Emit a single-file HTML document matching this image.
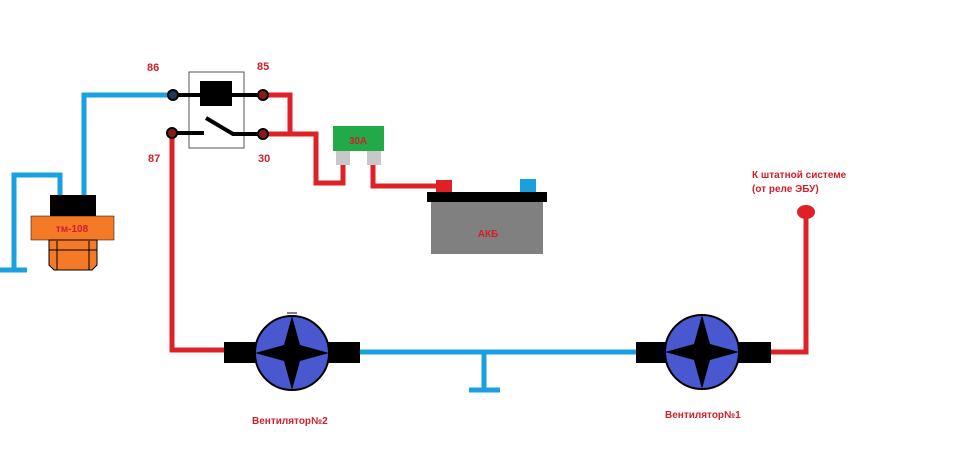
<!DOCTYPE html>
<html><head><meta charset="utf-8"><style>
body{margin:0;background:#fff;}
svg{display:block}
</style></head><body>
<svg width="960" height="459" viewBox="0 0 960 459" xmlns="http://www.w3.org/2000/svg">
<rect width="960" height="459" fill="#fff"/>
<g fill="none" stroke="#1aa0e0" stroke-width="5">
<polyline points="173,95 84,95 84,197"/>
<polyline points="60,197 60,175 14,175 14,270"/>
<line x1="0" y1="270" x2="27" y2="270"/>
<line x1="360" y1="352" x2="638" y2="352"/>
<polyline points="484,352 484,390"/>
<line x1="469" y1="390" x2="500" y2="390"/>
</g>
<g fill="none" stroke="#e02027" stroke-width="5">
<polyline points="263,95 290,95 290,134"/>
<polyline points="263,134 316,134 316,183 343,183 343,160"/>
<polyline points="373,160 373,186 440,186"/>
<polyline points="172,133 172,350 226,350"/>
<polyline points="770,352 806,352 806,212"/>
</g>
<ellipse cx="806" cy="212" rx="9" ry="7" fill="#e02027"/>
<rect x="189" y="72" width="55" height="76" fill="#fff" stroke="#555" stroke-width="1"/>
<g stroke="#000" stroke-width="4" fill="none">
<line x1="173" y1="95" x2="263" y2="95"/>
<line x1="172" y1="133" x2="204" y2="133"/>
<polyline points="206,118 233,134 263,134"/>
</g>
<rect x="200" y="81" width="32" height="25" fill="#000"/>
<circle cx="173" cy="95" r="5" fill="#1a3a5a" stroke="#000" stroke-width="2"/>
<circle cx="263" cy="95" r="5" fill="#8a1a1a" stroke="#000" stroke-width="2"/>
<circle cx="172" cy="133" r="5" fill="#8a1a1a" stroke="#000" stroke-width="2"/>
<circle cx="263" cy="134" r="5" fill="#8a1a1a" stroke="#000" stroke-width="2"/>
<g font-family="Liberation Sans, Noto Sans CJK SC, sans-serif" font-weight="bold" fill="#d0202a" font-size="11">
<text x="147" y="71">86</text>
<text x="257" y="70">85</text>
<text x="148" y="162">87</text>
<text x="258" y="162">30</text>
</g>
<rect x="50" y="195" width="46" height="23" fill="#000"/>
<rect x="31" y="216" width="83" height="24" fill="#f47a28" stroke="#000" stroke-width="0.5"/>
<path d="M49,240 H97 V265 L92,270 H54 L49,265 Z" fill="#f47a28" stroke="#000" stroke-width="1"/>
<line x1="57" y1="241" x2="57" y2="270" stroke="#000" stroke-width="1"/>
<line x1="89" y1="241" x2="89" y2="270" stroke="#000" stroke-width="1"/>
<line x1="49" y1="250" x2="97" y2="250" stroke="#000" stroke-width="1"/>
<rect x="333" y="126" width="51" height="25" fill="#22aa4a"/>
<rect x="336" y="151" width="14" height="14" fill="#c8c8c8"/>
<rect x="367" y="151" width="14" height="14" fill="#c8c8c8"/>
<rect x="436" y="180" width="16" height="13" fill="#e02027"/>
<rect x="520" y="179" width="16" height="14" fill="#1aa0e0"/>
<rect x="427" y="192" width="120" height="10" fill="#000"/>
<rect x="431" y="202" width="112" height="52" fill="#808080"/>
<g>
<rect x="224" y="342" width="36" height="21" fill="#000"/>
<rect x="322" y="342" width="38" height="21" fill="#000"/>
<circle cx="292" cy="353" r="37" fill="#4a58d0" stroke="#000" stroke-width="2"/>
<path d="M292,316 L300,345 L329,353 L300,361 L292,390 L284,361 L255,353 L284,345 Z" fill="#000"/>
<line x1="287" y1="313" x2="297" y2="313" stroke="#000" stroke-width="1"/>
</g>
<g>
<rect x="636" y="342" width="34" height="21" fill="#000"/>
<rect x="736" y="342" width="35" height="21" fill="#000"/>
<circle cx="702" cy="352" r="37" fill="#4a58d0" stroke="#000" stroke-width="2"/>
<path d="M702,315 L710,344 L739,352 L710,360 L702,389 L694,360 L665,352 L694,344 Z" fill="#000"/>
</g>
<g font-family="Liberation Sans, Noto Sans CJK SC, sans-serif" font-weight="bold" fill="#d0202a" font-size="10">
<text x="72" y="232" text-anchor="middle">тм-108</text>
<text x="358" y="144" text-anchor="middle">30A</text>
<text x="488" y="237" text-anchor="middle">АКБ</text>
<text x="252" y="424">Вентилятор№2</text>
<text x="665" y="418">Вентилятор№1</text>
<text x="752" y="178">К штатной системе</text>
<text x="752" y="192">(от реле ЭБУ)</text>
</g>
</svg>
</body></html>
